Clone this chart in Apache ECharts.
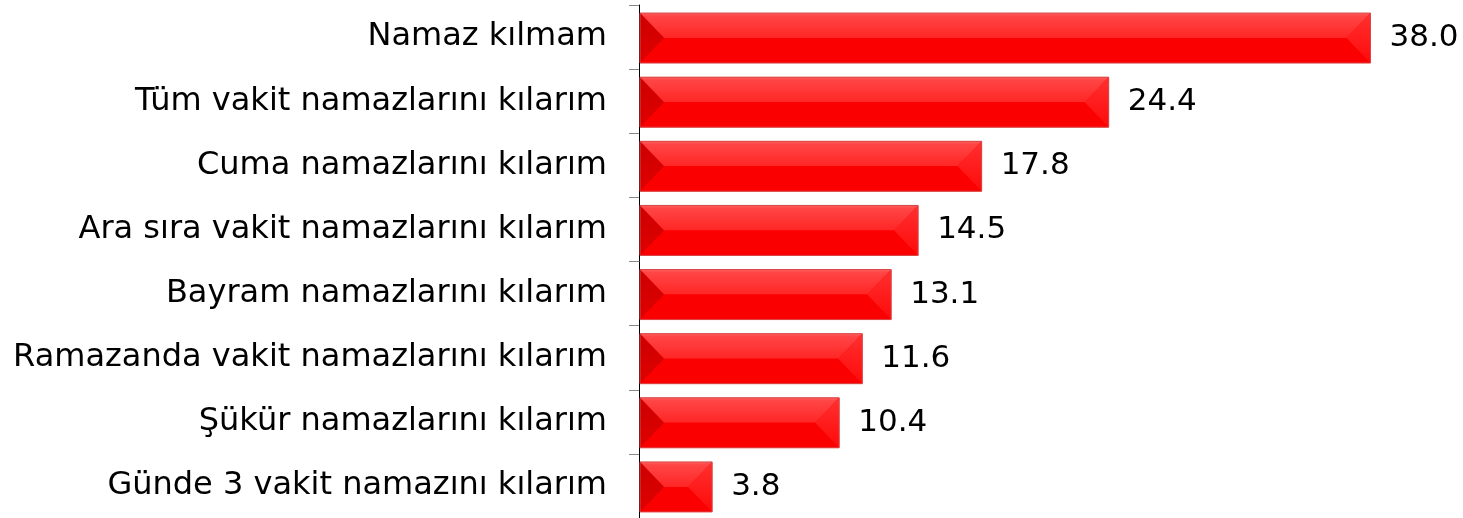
<!DOCTYPE html>
<html>
<head>
<meta charset="utf-8">
<script src="https://cdn.jsdelivr.net/npm/echarts@6/dist/echarts.min.js"></script>
<style>
  html, body { margin: 0; padding: 0; background: #fff; }
  #chart { width: 1463px; height: 518px; }
</style>
</head>
<body>
<div id="chart"></div>
<script>
// 数据
const categories = [
  'Namaz kılmam',
  'Tüm vakit namazlarını kılarım',
  'Cuma namazlarını kılarım',
  'Ara sıra vakit namazlarını kılarım',
  'Bayram namazlarını kılarım',
  'Ramazanda vakit namazlarını kılarım',
  'Şükür namazlarını kılarım',
  'Günde 3 vakit namazını kılarım'
]
const values = [38.0, 24.4, 17.8, 14.5, 13.1, 11.6, 10.4, 3.8]

const FONT = 'DejaVu Sans, Verdana, sans-serif'

// 立体效果的柱子
const renderBar = (params, api) => {
  const v = api.value(0)
  const idx = api.value(1)
  const p0 = api.coord([0, idx])
  const p1 = api.coord([v, idx])
  const h = api.size([0, 1])[1] * 0.78
  const x0 = p0[0] + 1
  const x1 = p1[0]
  const yc = p0[1] + 1
  const y0 = yc - h / 2
  const y1 = yc + h / 2
  const b = Math.min(24, (x1 - x0) / 2)

  return {
    type: 'group',
    children: [
      {
        type: 'rect',
        shape: { x: x0, y: y0, width: x1 - x0, height: h },
        style: { fill: '#fa0000' }
      },
      {
        type: 'polygon',
        shape: { points: [[x0, y0], [x1, y0], [x1 - b, yc], [x0 + b, yc]] },
        style: {
          fill: new echarts.graphic.LinearGradient(0, 0, 0, 1, [
            { offset: 0, color: '#ff6060' },
            { offset: 0.12, color: '#ff4545' },
            { offset: 1, color: '#ff2626' }
          ])
        }
      },
      {
        type: 'polygon',
        shape: { points: [[x0, y1], [x0 + b, yc], [x1 - b, yc], [x1, y1]] },
        style: { fill: '#fa0000' }
      },
      {
        type: 'polygon',
        shape: { points: [[x0, y0], [x0 + b, yc], [x0, y1]] },
        style: {
          fill: new echarts.graphic.LinearGradient(0, 0, 0, 1, [
            { offset: 0, color: '#cc0000' },
            { offset: 1, color: '#e00000' }
          ])
        }
      },
      {
        type: 'polygon',
        shape: { points: [[x1, y0], [x1 - b, yc], [x1, y1]] },
        style: {
          fill: new echarts.graphic.LinearGradient(0, 0, 0, 1, [
            { offset: 0, color: '#ff3030' },
            { offset: 1, color: '#ff0a0a' }
          ])
        }
      },
      {
        type: 'rect',
        shape: { x: x0, y: y0, width: x1 - x0, height: h },
        style: { fill: 'none', stroke: '#d84848', lineWidth: 1 }
      },
      {
        type: 'text',
        style: {
          text: v.toFixed(1),
          x: x1 + 19,
          y: yc,
          verticalAlign: 'middle',
          align: 'left',
          font: '31px ' + FONT,
          fill: '#000'
        }
      }
    ]
  }
}

const chart = echarts.init(document.getElementById('chart'))

chart.setOption({
  animation: false,
  grid: { left: 639, right: 54, top: 5, bottom: 0 },
  xAxis: {
    type: 'value',
    min: 0,
    max: 40,
    show: false
  },
  yAxis: {
    type: 'category',
    inverse: true,
    data: categories,
    axisLine: { show: true, lineStyle: { color: '#000', width: 1 } },
    axisTick: { show: true, length: 10, lineStyle: { color: '#888' } },
    axisLabel: {
      margin: 32,
      fontSize: 32,
      fontFamily: FONT,
      color: '#000'
    },
    splitLine: { show: false }
  },
  series: [
    {
      type: 'custom',
      renderItem: renderBar,
      encode: { x: 0, y: 1 },
      data: values.map((v, i) => [v, i])
    }
  ]
})
</script>
</body>
</html>
